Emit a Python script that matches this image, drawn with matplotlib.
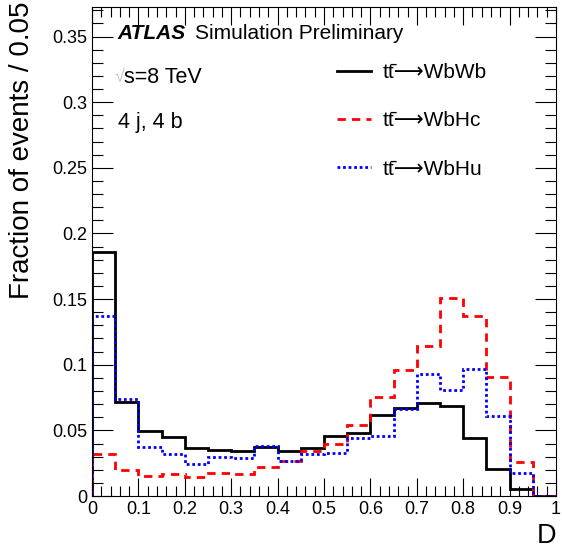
import numpy as np
import matplotlib
matplotlib.use('Agg')
import matplotlib.pyplot as plt
from matplotlib.ticker import MultipleLocator

plt.rcParams['font.family'] = ['Liberation Sans', 'DejaVu Sans']

# bin edges of D, width 0.05
edges = np.linspace(0, 1, 21)

# fraction of events per bin
wbwb = [0.186, 0.0717, 0.0498, 0.0453, 0.0367, 0.0349, 0.0341, 0.0374, 0.034, 0.0367,
        0.046, 0.0481, 0.0618, 0.0671, 0.0709, 0.0689, 0.0443, 0.0207, 0.0055, 0.0]
wbhc = [0.0321, 0.0202, 0.0151, 0.0164, 0.0146, 0.0176, 0.0171, 0.0219, 0.0265, 0.0346,
        0.0397, 0.0539, 0.0755, 0.0963, 0.1145, 0.1508, 0.1368, 0.0907, 0.0257, 0.0]
wbhu = [0.1369, 0.074, 0.0372, 0.0321, 0.0247, 0.0298, 0.029, 0.0379, 0.0265, 0.0321,
        0.0329, 0.0443, 0.0455, 0.0666, 0.093, 0.081, 0.0968, 0.0613, 0.0177, 0.0]

labels = ['tt\u0304\u27f6WbWb', 'tt\u0304\u27f6WbHc', 'tt\u0304\u27f6WbHu']

fig = plt.figure(figsize=(5.62, 5.49), dpi=100)
ax = fig.add_axes([0.1637, 0.0965, 0.8256, 0.8907])

ax.stairs(wbwb, edges, color='black', linewidth=2.0, label=labels[0])
ax.stairs(wbhc, edges, color='#ff0000', linewidth=2.0, linestyle=(0, (3, 2.2)), label=labels[1])
ax.stairs(wbhu, edges, color='#0000ff', linewidth=2.0, linestyle=(0, (1, 1)), label=labels[2])

ax.set_xlim(0, 1)
ax.set_ylim(0, 0.3725)
ax.xaxis.set_major_locator(MultipleLocator(0.1))
ax.xaxis.set_minor_locator(MultipleLocator(0.02))
ax.yaxis.set_major_locator(MultipleLocator(0.05))
ax.yaxis.set_minor_locator(MultipleLocator(0.01))
ax.tick_params(which='both', direction='in', top=True, right=True, labelsize=13, width=0.8)
ax.tick_params(axis='y', which='major', length=15)
ax.tick_params(axis='y', which='minor', length=8)
ax.tick_params(axis='x', which='major', length=13)
ax.tick_params(axis='x', which='minor', length=7)
ax.xaxis.set_major_formatter(plt.FuncFormatter(lambda v, p: '%g' % round(v, 2)))
ax.yaxis.set_major_formatter(plt.FuncFormatter(lambda v, p: '%g' % round(v, 2)))
for s in ax.spines.values():
    s.set_linewidth(0.8)

ax.set_xlabel('D', fontsize=19.5, loc='right')
fig.text(0.016, 0.997, 'Fraction of events / 0.05', fontsize=20, rotation=90,
         ha='left', va='top')

ax.text(0.055, 0.945, 'ATLAS', transform=ax.transAxes, fontsize=15,
        fontweight='bold', fontstyle='italic', va='center')
ax.text(0.222, 0.945, 'Simulation Preliminary', transform=ax.transAxes, fontsize=15, va='center')
ax.text(0.048, 0.855, '√', transform=ax.transAxes, fontsize=13, va='center', color='#c8c8c8')
ax.text(0.068, 0.855, 's=8 TeV', transform=ax.transAxes, fontsize=15.5, va='center')
ax.text(0.055, 0.763, '4 j, 4 b', transform=ax.transAxes, fontsize=15.5, va='center')

ax.legend(loc='upper left', bbox_to_anchor=(0.527, 0.885), frameon=False, fontsize=15,
          handlelength=1.65, handletextpad=0.55, labelspacing=1.4, borderpad=0,
          borderaxespad=0)

fig.savefig('out.png', dpi=100)
